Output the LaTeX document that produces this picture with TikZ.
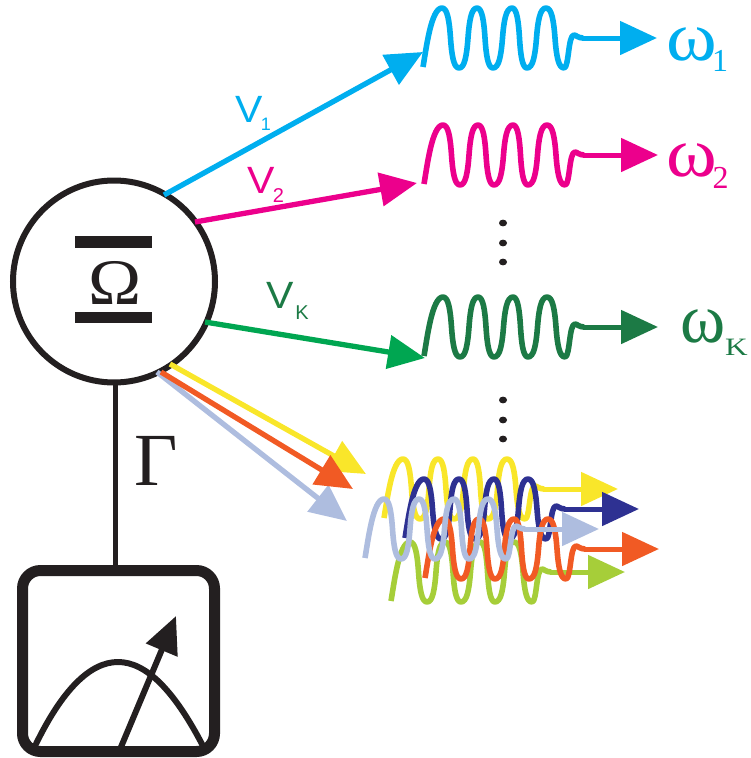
\documentclass[tikz,border=0pt]{standalone}
\usepackage{fontspec}
\setmainfont{Liberation Serif}
\setsansfont{Liberation Sans}
\usetikzlibrary{arrows.meta}
\definecolor{cCyan}{HTML}{00AEEF}
\definecolor{cMag}{HTML}{EC008C}
\definecolor{cGreen}{HTML}{00A651}
\definecolor{cDark}{HTML}{1C7A45}
\definecolor{cYel}{HTML}{F9E62A}
\definecolor{cOra}{HTML}{F15A24}
\definecolor{cLav}{HTML}{AEBDDF}
\definecolor{cNavy}{HTML}{2E3192}
\definecolor{cLime}{HTML}{A6CE39}
\definecolor{cInk}{HTML}{231F20}
\newcommand{\wseg}[2]{.. controls +({.32*#1},0) and +({-.07*#1},{-.28*#2}) .. ++({.5*#1},{.5*#2}) .. controls +({.07*#1},{.28*#2}) and +({-.32*#1},0) .. ++({.5*#1},{.5*#2}) }
\tikzset{
  x=1pt,y=-1pt,
  conn/.style={line width=5.3pt,-{Triangle[length=37pt,width=33pt]}},
  txt/.style={inner sep=0pt,outer sep=0pt},
  pics/wavelet/.style={code={
    \draw[line width=5.6pt,color=#1,line join=round]
      (0,0) .. controls (3,-17) and (8,-59) .. (19,-59)
      \wseg{17}{60} \wseg{18}{-60} \wseg{16}{60} \wseg{19}{-60}
      \wseg{15}{60} \wseg{19}{-60} \wseg{18}{60}
      .. controls (146,1) and (145,-32) .. (151,-32)
      .. controls (153,-32) and (155,-29) .. (160,-29);
    \draw[line width=5pt,color=#1,-{Triangle[length=37pt,width=33pt]}] (159,-29) -- (234,-29);
  }}
}
\newcommand{\fsz}[1]{\fontsize{#1}{#1}\selectfont}
\begin{document}
\begin{tikzpicture}
\useasboundingbox (0,0) rectangle (751,758);
% system
\node[circle,draw=cInk,line width=6pt,minimum size=202pt,inner sep=0pt] (sys) at (114,281.5) {};
\fill[cInk] (75,236) rectangle (152,248);
\fill[cInk] (75,312) rectangle (152,323);
\node[txt,text=cInk,xscale=1.1] (omega) at (115,283) {\fsz{65}Ω};
% meter
\node[draw=cInk,line width=11pt,rounded corners=18pt,minimum width=192pt,minimum height=181pt,inner sep=0pt] (meter) at (118.5,661) {};
\coordinate (gtop) at (115,381);
\coordinate (gbot) at (115,565);
\draw[cInk,line width=5pt] (gtop) -- (gbot);
\node[txt,text=cInk] (gamma) at (156.5,461) {\fsz{75}Γ};
\draw[cInk,line width=6pt] (35,746) .. controls (62,690) and (90,662) .. (118,662) .. controls (146,662) and (174,690) .. (203,746);
\draw[cInk,line width=6pt,-{Triangle[length=37pt,width=33pt]}] (121,747) -- (176,616);
% coordinates
\coordinate (c1) at (164,195);
\coordinate (c2) at (195,222);
\coordinate (c3) at (205,322);
\coordinate (cy) at (170,364);
\coordinate (co) at (161,372);
\coordinate (cl) at (157,372);
\coordinate (t1) at (423,52);
\coordinate (t2) at (417,183);
\coordinate (t3) at (425,358);
\coordinate (ty) at (366,474);
\coordinate (to) at (353,489);
\coordinate (tl) at (347,521);
\draw[conn,cCyan] (c1) -- (t1);
\draw[conn,cMag] (c2) -- (t2);
\draw[conn,cGreen] (c3) -- (t3);
\draw[conn,cLav] (cl) -- (tl);
\draw[conn,cYel] (cy) -- (ty);
\draw[conn,cOra] (co) -- (to);
% wavelets
\pic at (423,67) {wavelet=cCyan};
\pic at (424,184) {wavelet=cMag};
\pic at (424,356) {wavelet=cDark};
\pic at (384,518) {wavelet=cYel};
\pic at (391,601) {wavelet=cLime};
\pic at (405,538) {wavelet=cNavy};
\pic at (425,578) {wavelet=cOra};
\pic at (365,558) {wavelet=cLav};
% dots
\foreach \y in {223,243,262,400,420,439}
  \fill[cInk] (503,\y) ellipse (4 and 3.4);
% labels
\node[txt,text=cCyan,font=\sffamily\fsz{38},xscale=1.08] (v1) at (249,109) {V};
\node[txt,text=cCyan,font=\sffamily\fsz{18}] (v1s) at (266,124) {1};
\node[txt,text=cMag,font=\sffamily\fsz{38},xscale=1.08] (v2) at (261,180) {V};
\node[txt,text=cMag,font=\sffamily\fsz{20}] (v2s) at (278.5,195.5) {2};
\node[txt,text=cDark,font=\sffamily\fsz{38},xscale=1.08] (vk) at (280.5,295) {V};
\node[txt,text=cDark,font=\sffamily\fsz{20}] (vks) at (302,312.5) {K};
\node[txt,text=cCyan,xscale=1.1] (w1) at (692,44) {\fsz{70}ω};
\node[txt,text=cCyan] (w1s) at (720,61) {\fsz{32}1};
\node[txt,text=cMag,xscale=1.1] (w2) at (692,160) {\fsz{70}ω};
\node[txt,text=cMag] (w2s) at (720.5,178) {\fsz{32}2};
\node[txt,text=cDark,xscale=.98] (wk) at (703,326) {\fsz{70}ω};
\node[txt,text=cDark,xscale=1.25] (wks) at (736.5,347) {\fsz{25}K};
\end{tikzpicture}
\end{document}
